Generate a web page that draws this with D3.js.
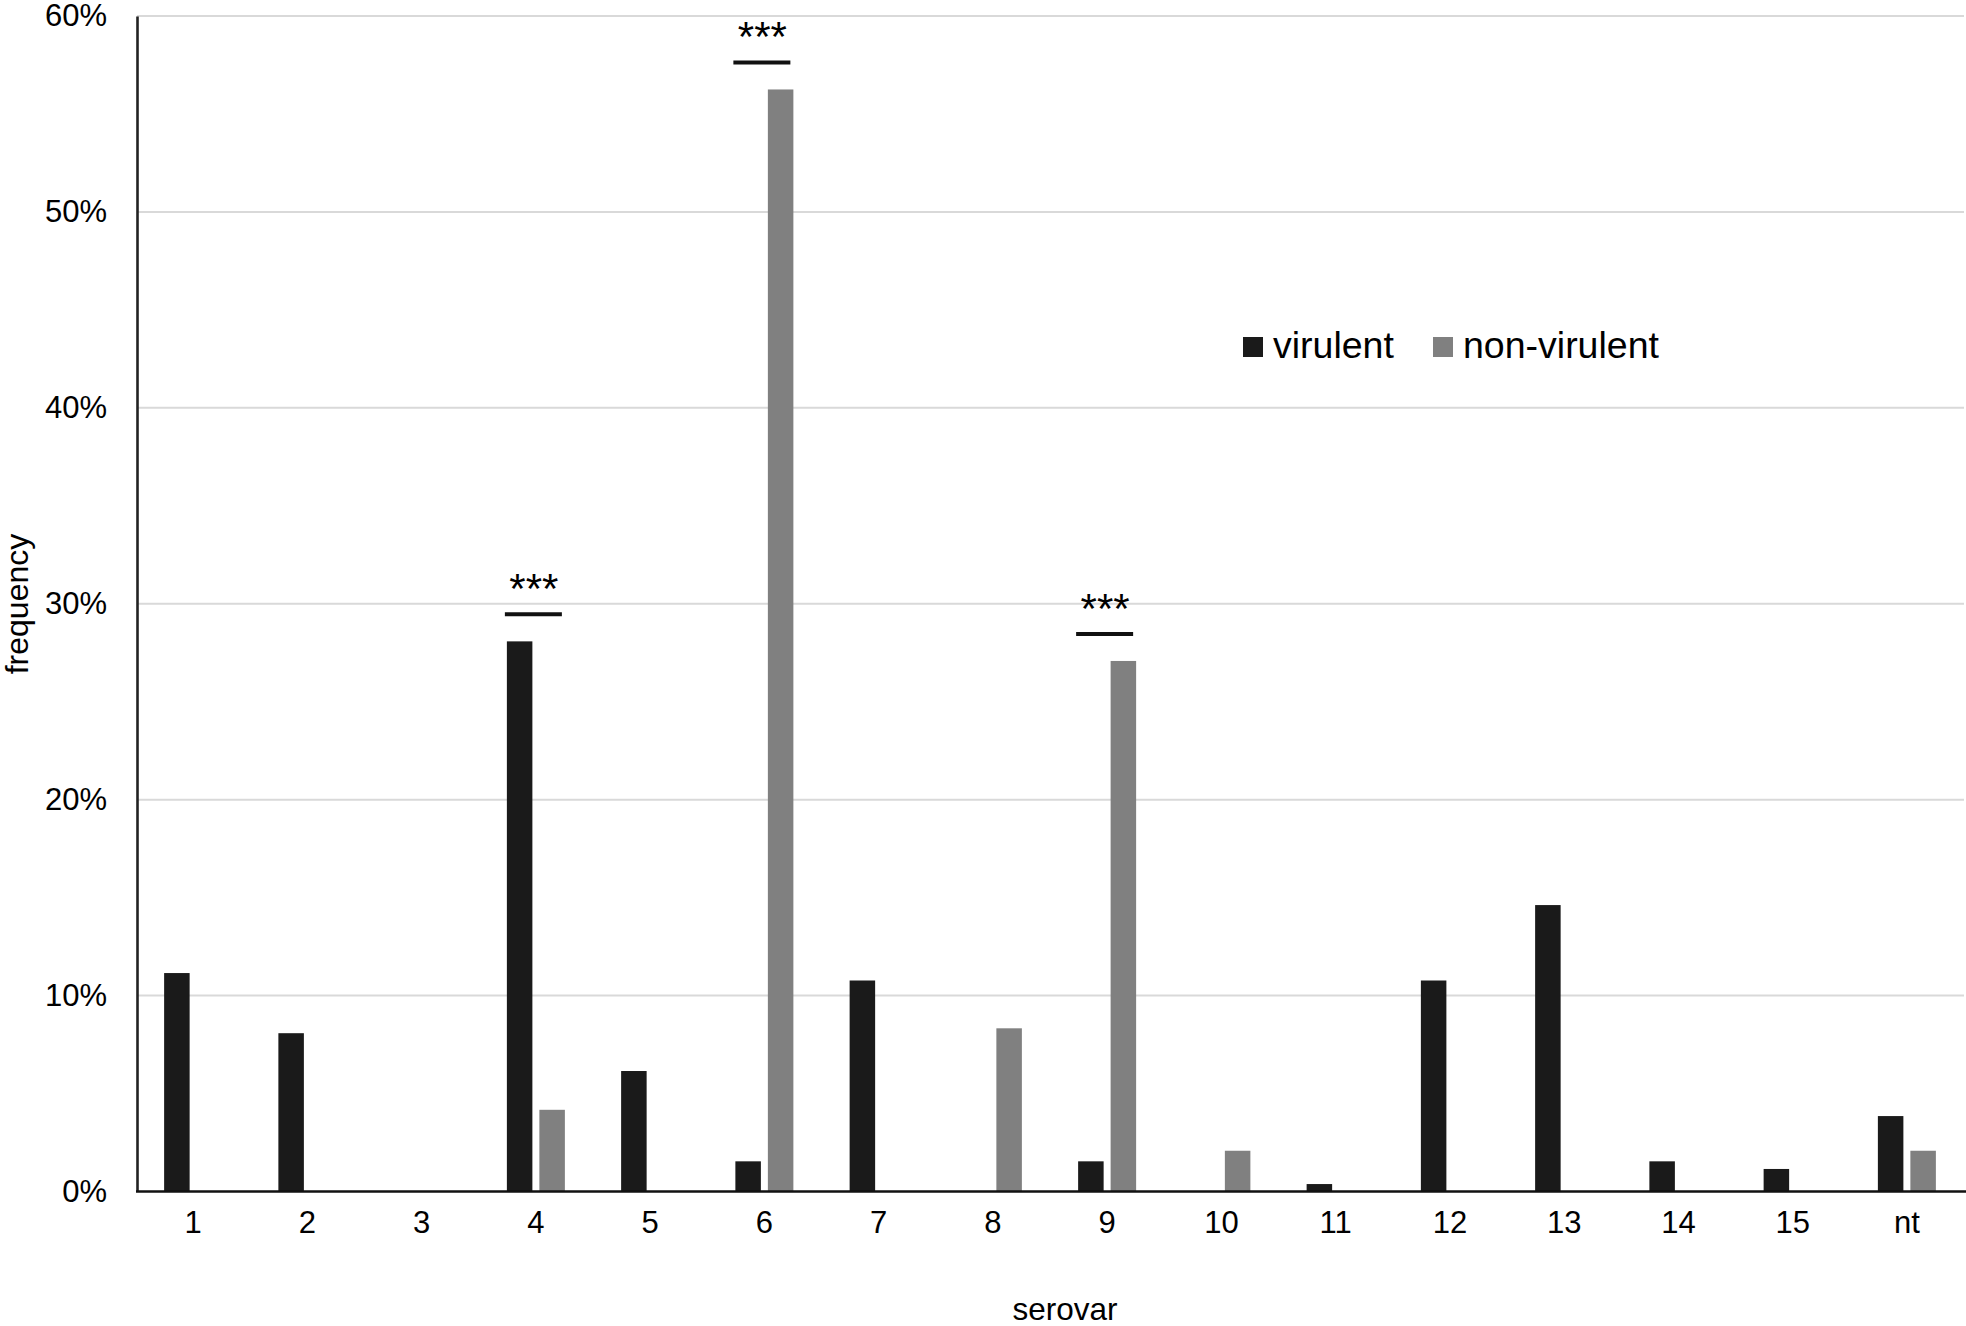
<!DOCTYPE html>
<html>
<head>
<meta charset="utf-8">
<script src="https://cdn.jsdelivr.net/npm/d3@7"></script>
<style>
  body { margin: 0; background: #fff; }
  svg { display: block; font-family: "Liberation Sans", Arial, sans-serif; }
</style>
</head>
<body>
<div id="chart"></div>
<script>
// serovar categories
const serovars = ['1', '2', '3', '4', '5', '6', '7', '8', '9', '10', '11', '12', '13', '14', '15', 'nt']
const seriesNames = ['virulent', 'non-virulent']
// frequencies (fraction)
const virulent = [0.1115, 0.0808, 0, 0.2808, 0.0615, 0.0154, 0.1077, 0, 0.0154, 0, 0.0038, 0.1077, 0.1462, 0.0154, 0.0115, 0.0385]
const nonVirulent = [0, 0, 0, 0.0417, 0, 0.5625, 0, 0.0833, 0.2708, 0.0208, 0, 0, 0, 0, 0, 0.0208]
const yTicks = [0, 0.1, 0.2, 0.3, 0.4, 0.5, 0.6]
// serovars marked as significant
const significant = ['4', '6', '9']

const colors = { 'virulent': '#1a1a1a', 'non-virulent': '#808080' }

const W = 1966, H = 1326
const op = {
  left: 137,
  right: 1964,
  top: 16,
  bottom: 1191.5
}

const rows = serovars.map((s, i) => ({
  serovar: s,
  values: [
    { key: 'virulent', value: virulent[i] },
    { key: 'non-virulent', value: nonVirulent[i] }
  ]
}))

const svg = d3.select('#chart').append('svg')
  .attr('width', W)
  .attr('height', H)

const x = d3.scaleBand().domain(serovars).range([136, op.right]).padding(0)
const step = x.bandwidth()
const x1 = d3.scaleBand().domain(seriesNames)
  .range([step / 2 - 29, step / 2 + 29])
  .paddingInner(0.215)
const y = d3.scaleLinear().domain([0, 0.6]).range([op.bottom, op.top])

// gridlines
svg.append('g')
  .selectAll('line')
  .data(yTicks.slice(1))
  .enter().append('line')
  .attr('x1', op.left)
  .attr('x2', op.right)
  .attr('y1', d => y(d))
  .attr('y2', d => y(d))
  .attr('stroke', '#d9d9d9')
  .attr('stroke-width', 2)

// y axis
const yAxis = svg.append('g')
  .attr('transform', `translate(${op.left},0)`)
  .call(d3.axisLeft(y).tickValues(yTicks).tickFormat(d3.format('.0%')).tickSize(0).tickPadding(30))
yAxis.select('.domain').attr('stroke', '#222').attr('stroke-width', 2.6)
yAxis.selectAll('text').attr('font-size', '31px').attr('fill', '#000')
  .attr('font-family', '"Liberation Sans", Arial, sans-serif')

// bars
const groups = svg.append('g')
  .selectAll('g')
  .data(rows)
  .enter().append('g')
  .attr('transform', d => `translate(${x(d.serovar)},0)`)

groups.selectAll('rect')
  .data(d => d.values.filter(v => v.value > 0))
  .enter().append('rect')
  .attr('x', d => x1(d.key))
  .attr('width', x1.bandwidth())
  .attr('y', d => y(d.value))
  .attr('height', d => y(0) - y(d.value))
  .attr('fill', d => colors[d.key])

// x axis
const xAxis = svg.append('g')
  .attr('transform', `translate(0,${op.bottom})`)
  .call(d3.axisBottom(x).tickSize(0).tickPadding(19))
xAxis.select('.domain').remove()
xAxis.selectAll('text').attr('font-size', '31px').attr('fill', '#000')
  .attr('font-family', '"Liberation Sans", Arial, sans-serif')
svg.append('line')
  .attr('x1', op.left - 1)
  .attr('x2', W)
  .attr('y1', op.bottom)
  .attr('y2', op.bottom)
  .attr('stroke', '#111')
  .attr('stroke-width', 2.6)

// significance marks
const sig = svg.append('g')
  .selectAll('g')
  .data(rows.filter(d => significant.includes(d.serovar)))
  .enter().append('g')
  .attr('transform', d => `translate(${x(d.serovar)},${y(d3.max(d.values, v => v.value)) - 27})`)
sig.append('line')
  .attr('x1', step / 2 - 31)
  .attr('x2', step / 2 + 26)
  .attr('stroke', '#111')
  .attr('stroke-width', 4)
sig.append('text')
  .text('***')
  .attr('x', step / 2 - 2)
  .attr('y', -11)
  .attr('text-anchor', 'middle')
  .attr('font-size', '42px')
  .attr('fill', '#000')

// legend
const legend = svg.append('g').attr('transform', 'translate(1243,337)')
const legendItems = legend.selectAll('g')
  .data(seriesNames)
  .enter().append('g')
  .attr('transform', (d, i) => `translate(${i * 190},0)`)
legendItems.append('rect')
  .attr('width', 20)
  .attr('height', 20)
  .attr('fill', d => colors[d])
legendItems.append('text')
  .text(d => d)
  .attr('x', 30)
  .attr('y', 21)
  .attr('font-size', '37.5px')
  .attr('fill', '#000')

// axis titles
svg.append('text')
  .text('serovar')
  .attr('x', 1065)
  .attr('y', 1320)
  .attr('text-anchor', 'middle')
  .attr('font-size', '31.5px')
  .attr('fill', '#000')

svg.append('text')
  .text('frequency')
  .attr('transform', 'translate(28,604) rotate(-90)')
  .attr('text-anchor', 'middle')
  .attr('font-size', '32px')
  .attr('fill', '#000')
</script>
</body>
</html>
